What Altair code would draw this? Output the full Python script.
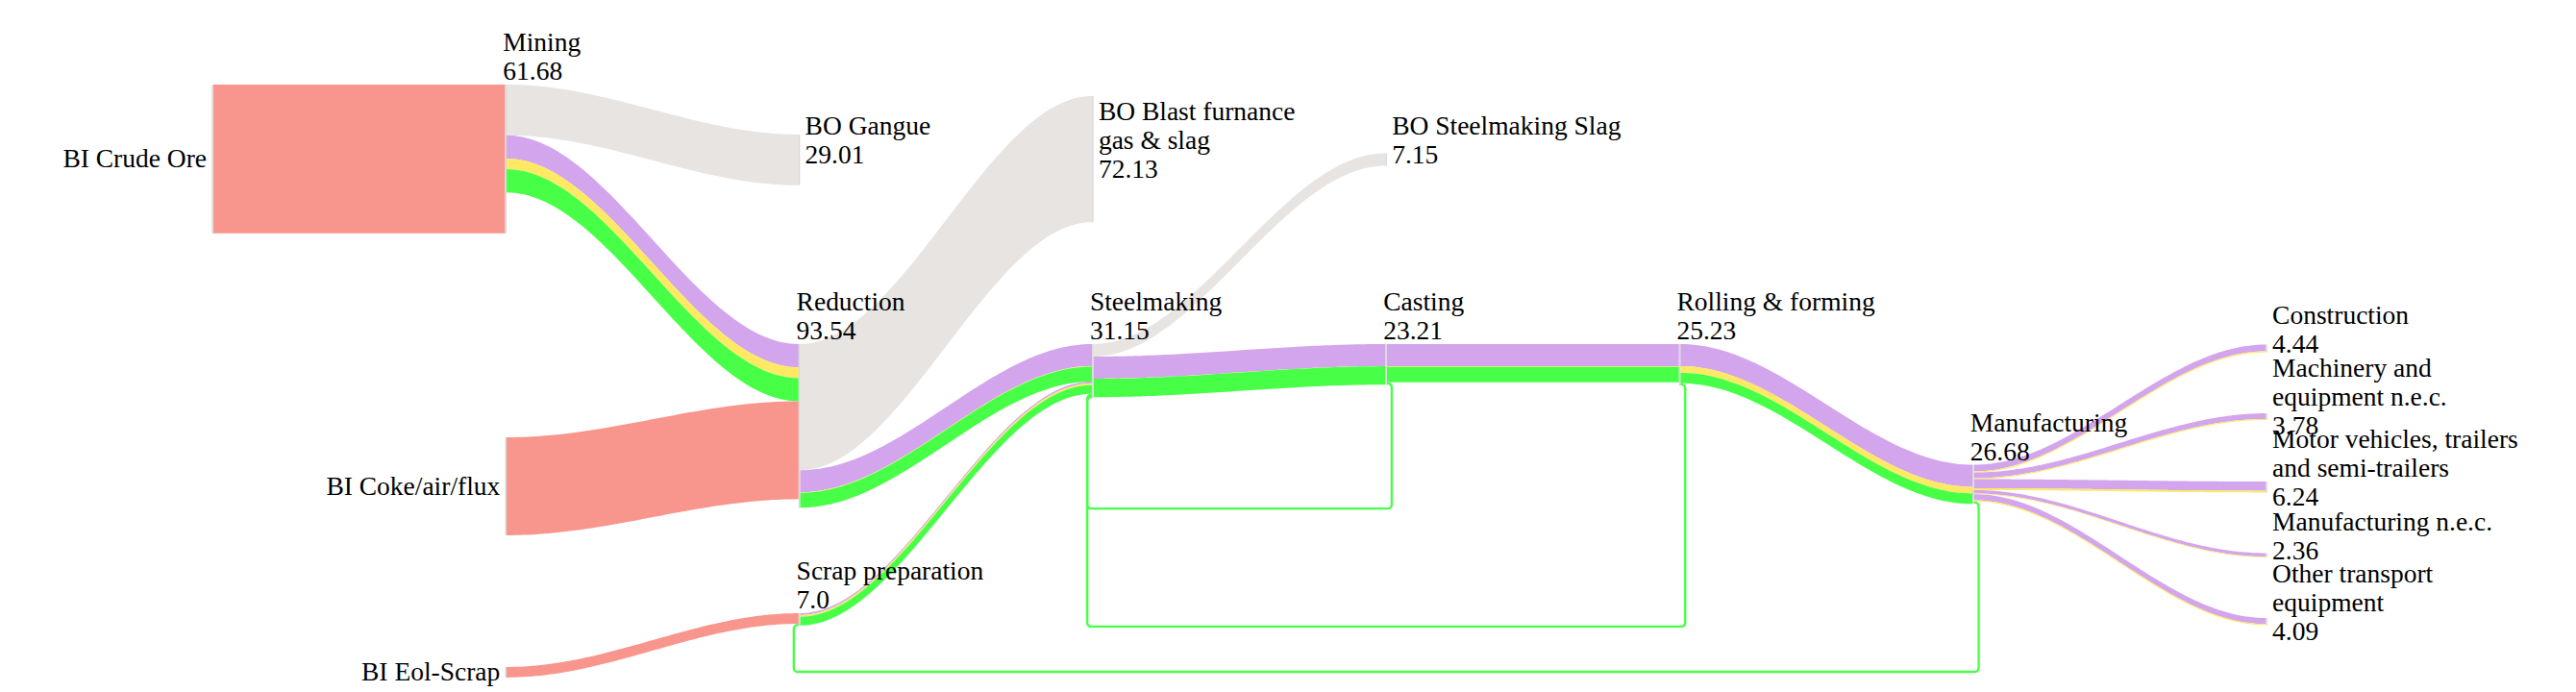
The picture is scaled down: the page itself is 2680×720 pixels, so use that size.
import altair as alt
import numpy as np
import pandas as pd

# ---------------- data ----------------
node_names = [
    "BI Crude Ore", "Mining", "BI Coke/air/flux", "BI Eol-Scrap",
    "BO Gangue", "Reduction", "Scrap preparation",
    "BO Blast furnance\ngas & slag", "Steelmaking",
    "BO Steelmaking Slag", "Casting",
    "Rolling & forming",
    "Manufacturing",
    "Construction", "Machinery and\nequipment n.e.c.",
    "Motor vehicles, trailers\nand semi-trailers",
    "Manufacturing n.e.c.", "Other transport\nequipment",
]
node_value_labels = ["", "61.68", "", "", "29.01", "93.54", "7.0", "72.13", "31.15",
                     "7.15", "23.21", "25.23", "26.68", "4.44", "3.78", "6.24", "2.36", "4.09"]
node_stage = [0, 1, 1, 1, 2, 2, 2, 3, 3, 4, 4, 5, 6, 7, 7, 7, 7, 7]

link_source = [0, 1, 1, 1, 1, 2, 3,
               5, 5, 5, 5, 6, 6, 6,
               8, 8, 8, 8,
               10, 10, 10, 10,
               11, 11, 11, 11,
               12, 12, 12, 12, 12, 12, 12, 12, 12, 12, 12]
link_target = [1, 4, 5, 5, 5, 5, 6,
               7, 8, 8, 8, 8, 8, 8,
               9, 10, 10, 10,
               11, 11, 11, 8,
               12, 12, 12, 8,
               13, 13, 14, 14, 15, 15, 16, 16, 17, 17, 6]
link_value = [85.0, 29.01, 13.3, 6.1, 13.27, 56.0, 6.0,
              72.13, 12.6, 0.3, 8.51, 1.0, 1.0, 5.0,
              7.15, 12.6, 0.1, 10.5,
              12.6, 0.4, 8.9, 1.3,
              12.6, 3.8, 6.0, 1.3,
              3.78, 0.66, 3.2, 0.58, 5.2, 1.04, 1.96, 0.40, 3.45, 0.64, 1.3]
link_kind = ["input", "output", "flow A", "flow B", "flow C", "input", "input",
             "output", "flow A", "flow B", "flow C", "flow A", "flow B", "flow C",
             "output", "flow A", "flow B", "flow C",
             "flow A", "flow B", "flow C", "flow C",
             "flow A", "flow B", "flow C", "flow C",
             "flow A", "flow B", "flow A", "flow B", "flow A", "flow B",
             "flow A", "flow B", "flow A", "flow B", "flow C"]

kind_names = ["input", "output", "flow A", "flow B", "flow C"]
kind_colors = ["#F8968D", "#E7E4E1", "#D3A5EC", "#FDE963", "#48FF48"]

# ---------------- layout (arrangement, in value units like plotly node.y) ----------------
node_top = [43.96, 43.96, 245.6, 376.9, 72.5, 192.3, 346.2, 50.5, 192.3,
            83.2, 192.3, 192.3, 261.3, 192.6, 231.9, 270.9, 311.8, 348.9]
loop_bottom = {21: 286.3, 25: 353.8, 36: 379.7}

K = 1.82            # px per value unit
COL = 305.3         # px per stage
CURV = 0.35         # link curvature
PLOT_W = 7 * COL
PLOT_H = 704
PAD_LEFT = 213
PAD_RIGHT = 2650 - PAD_LEFT - int(round(PLOT_W))
NODE_W = 1.5
FONT = "Liberation Serif, Times New Roman, Times, serif"
FS = 27.5
LH = 30

N = len(node_names)
L = len(link_source)
circular = [node_stage[t] <= node_stage[s] for s, t in zip(link_source, link_target)]
tin = [0.0] * N
tout = [0.0] * N
for s, t, v in zip(link_source, link_target, link_value):
    tout[s] += v
    tin[t] += v
size = [max(a, b) for a, b in zip(tin, tout)]

src_off = [0.0] * L
tgt_off = [0.0] * L
for i in range(N):
    outs = [j for j in range(L) if link_source[j] == i]
    outs.sort(key=lambda j: (circular[j], node_top[link_target[j]], j))
    y = node_top[i]
    for j in outs:
        src_off[j] = y
        y += link_value[j]
    ins = [j for j in range(L) if link_target[j] == i]
    ins.sort(key=lambda j: (circular[j], node_top[link_source[j]], j))
    y = node_top[i]
    for j in ins:
        tgt_off[j] = y
        y += link_value[j]

# bands (normal links)
band_rows = []
ts = np.linspace(0, 1, 72)
for j in range(L):
    if circular[j]:
        continue
    s, t = link_source[j], link_target[j]
    xs = node_stage[s] * COL + NODE_W / 2
    xt = node_stage[t] * COL - NODE_W / 2
    xc1 = xs + (xt - xs) * CURV
    xc2 = xt - (xt - xs) * CURV
    y0, y1 = src_off[j], tgt_off[j]
    for tt in ts:
        x = (1 - tt) ** 3 * xs + 3 * (1 - tt) ** 2 * tt * xc1 + 3 * (1 - tt) * tt ** 2 * xc2 + tt ** 3 * xt
        yy = y0 + (y1 - y0) * (3 * tt ** 2 - 2 * tt ** 3)
        band_rows.append(dict(link=j, kind=link_kind[j], x=x / COL, y=yy, y2=yy + link_value[j]))
bands = pd.DataFrame(band_rows)


def corner(c, d1, d2, r, n=7):
    c = np.array(c, float)
    d1 = np.array(d1, float)
    d2 = np.array(d2, float)
    o = c - r * d1 + r * d2
    return [o + r * (-np.cos(th) * d2 + np.sin(th) * d1) for th in np.linspace(0, np.pi / 2, n)]


loop_rows = []
for j in range(L):
    if not circular[j]:
        continue
    s, t = link_source[j], link_target[j]
    v = link_value[j]
    ys = (src_off[j] + v / 2) * K
    yt = (tgt_off[j] + v / 2) * K
    yb = loop_bottom[j] * K
    xs = node_stage[s] * COL + NODE_W / 2
    xa = xs + 5
    xt = node_stage[t] * COL - NODE_W / 2
    xb = xt - 5
    r = 4
    pts = [np.array([xs, ys])]
    pts += corner((xa, ys), (1, 0), (0, 1), r)
    pts += corner((xa, yb), (0, 1), (-1, 0), r)
    pts += corner((xb, yb), (-1, 0), (0, -1), r)
    pts += corner((xb, yt), (0, -1), (1, 0), r)
    pts.append(np.array([xt, yt]))
    for k, p in enumerate(pts):
        loop_rows.append(dict(link=j, kind=link_kind[j], seq=k, x=p[0] / COL, y=p[1] / K, w=v))
loops = pd.DataFrame(loop_rows)

node_rows = []
left_labels = []
right_labels = []
for i in range(N):
    nx = node_stage[i] * COL
    node_rows.append(dict(x=(nx - NODE_W / 2) / COL, x2=(nx + NODE_W / 2) / COL,
                          y=node_top[i], y2=node_top[i] + size[i]))
    center = (node_top[i] + size[i] / 2) * K
    top = node_top[i] * K
    if tin[i] == 0:
        right_labels.append(dict(x=(nx - 6) / COL, y=(center + 9) / K, text=node_names[i]))
    else:
        text = node_names[i] + "\n" + node_value_labels[i]
        nl = text.count("\n") + 1
        if tout[i] == 0:
            yl = center - 11 - (nl - 1) * 15
            xl = nx + 6
        else:
            yl = top - 5 - (nl - 1) * LH
            xl = nx - 3
        left_labels.append(dict(x=xl / COL, y=yl / K, text=text))
nodes = pd.DataFrame(node_rows)
lab_l = pd.DataFrame(left_labels)
lab_r = pd.DataFrame(right_labels)

xsc = alt.Scale(domain=[0, 7], nice=False, zero=False)
ysc = alt.Scale(domain=[0, PLOT_H / K], nice=False, zero=False, reverse=True)
X = alt.X("x:Q", scale=xsc, axis=None)
Y = alt.Y("y:Q", scale=ysc, axis=None, stack=None)
C = alt.Color("kind:N", scale=alt.Scale(domain=kind_names, range=kind_colors), legend=None)

band_layer = alt.Chart(bands).mark_area(interpolate="linear", opacity=1).encode(
    x=X, y=Y, y2="y2:Q", color=C, detail="link:N")

loop_layer = alt.Chart(loops).mark_line(interpolate="linear", strokeCap="butt", strokeJoin="round").encode(
    x=X, y=Y, color=C, detail="link:N", order="seq:Q",
    size=alt.Size("w:Q", scale=alt.Scale(domain=[0, 10], range=[0, 10 * K]), legend=None))

node_layer = alt.Chart(nodes).mark_rect(color="#d8d8d8").encode(
    x=X, x2="x2:Q", y=Y, y2="y2:Q")

text_l = alt.Chart(lab_l).mark_text(align="left", baseline="alphabetic", font=FONT, fontSize=FS,
                                    lineBreak="\n", lineHeight=LH, color="#000000").encode(
    x=X, y=Y, text="text:N")
text_r = alt.Chart(lab_r).mark_text(align="right", baseline="alphabetic", font=FONT, fontSize=FS,
                                    lineBreak="\n", lineHeight=LH, color="#000000").encode(
    x=X, y=Y, text="text:N")

chart = alt.layer(band_layer, loop_layer, node_layer, text_l, text_r).properties(
    width=PLOT_W, height=PLOT_H,
    autosize=alt.AutoSizeParams(type="none"),
    padding={"left": PAD_LEFT, "top": 0, "right": PAD_RIGHT, "bottom": 6},
).configure_view(strokeWidth=0)

chart.save("out.html", embed_options={"renderer": "svg", "actions": False})
